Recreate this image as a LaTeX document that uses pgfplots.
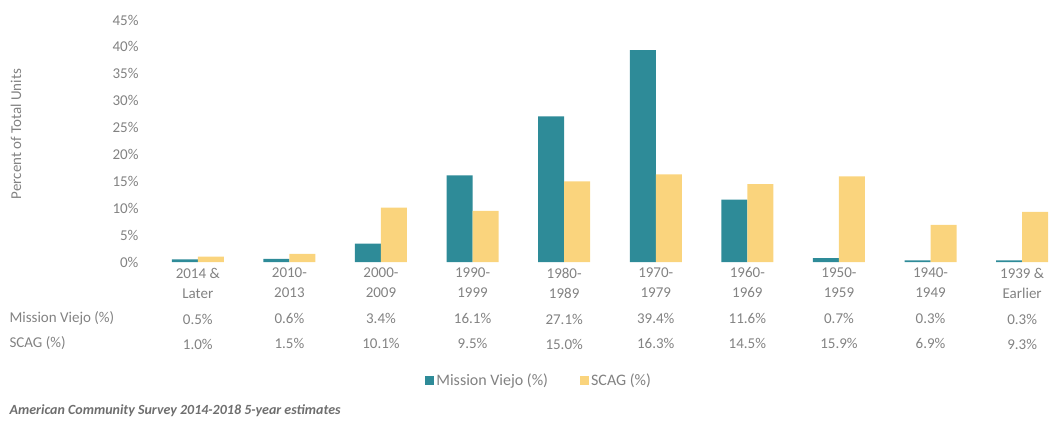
\documentclass[border=0pt]{standalone}
\usepackage{pgfplots}
\pgfplotsset{compat=1.18}
\usepackage{fontspec}
\setmainfont{Carlito}
\definecolor{mvteal}{RGB}{46,139,152}
\definecolor{scagyel}{RGB}{250,212,125}
\definecolor{txt}{RGB}{130,130,130}
\begin{document}
\begin{tikzpicture}
\path[use as bounding box] (0pt,0pt) rectangle (1058pt,426pt);
\begin{axis}[
  at={(152pt,164pt)}, anchor=south west,
  scale only axis, width=906.8pt, height=242pt,
  ybar=0pt, bar width=26pt,
  xmin=-0.5, xmax=9.4, ymin=0, ymax=45,
  axis line style={draw=none},
  major tick style={draw=none},
  ytick={0,5,...,45},
  yticklabels={0\%,5\%,10\%,15\%,20\%,25\%,30\%,35\%,40\%,45\%},
  yticklabel style={xshift=-10pt, font=\fontsize{15}{18}\selectfont, text=txt},
  xtick={0,...,9},
  xticklabels={
    {2014 \&\\Later\\[6pt]0.5\%\\[5pt]1.0\%},
    {2010-\\2013\\[6pt]0.6\%\\[5pt]1.5\%},
    {2000-\\2009\\[6pt]3.4\%\\[5pt]10.1\%},
    {1990-\\1999\\[6pt]16.1\%\\[5pt]9.5\%},
    {1980-\\1989\\[6pt]27.1\%\\[5pt]15.0\%},
    {1970-\\1979\\[6pt]39.4\%\\[5pt]16.3\%},
    {1960-\\1969\\[6pt]11.6\%\\[5pt]14.5\%},
    {1950-\\1959\\[6pt]0.7\%\\[5pt]15.9\%},
    {1940-\\1949\\[6pt]0.3\%\\[5pt]6.9\%},
    {1939 \&\\Earlier\\[6pt]0.3\%\\[5pt]9.3\%}},
  xticklabel style={align=center, anchor=north, yshift=2pt,
    font=\fontsize{15}{20}\selectfont, text=txt},
  legend style={draw=none, legend columns=2, at={(0.427,-0.49)}, anchor=center,
    font=\fontsize{16}{19}\selectfont, text=txt,
    /tikz/column 2/.style={column sep=30pt}},
  legend image code/.code={\fill[#1] (0pt,-4.5pt) rectangle (9pt,4.5pt);},
  clip=false,
]
\addplot[fill=mvteal, draw=none] coordinates {
  (0,0.5) (1,0.6) (2,3.4) (3,16.1) (4,27.1) (5,39.4) (6,11.6) (7,0.7) (8,0.3) (9,0.3)};
\addplot[fill=scagyel, draw=none] coordinates {
  (0,1.0) (1,1.5) (2,10.1) (3,9.5) (4,15.0) (5,16.3) (6,14.5) (7,15.9) (8,6.9) (9,9.3)};
\legend{Mission Viejo (\%), SCAG (\%)}
\end{axis}
\node[rotate=90, text=txt, font=\fontsize{15}{18}\selectfont] at (16pt,292pt) {Percent of Total Units};
\node[anchor=west, text=txt, font=\fontsize{15}{18}\selectfont] at (6pt,108pt) {Mission Viejo (\%)};
\node[anchor=west, text=txt, font=\fontsize{15}{18}\selectfont] at (6pt,83pt) {SCAG (\%)};
\node[anchor=west, text=txt!85!black, font=\fontsize{14}{17}\selectfont\bfseries\itshape] at (6pt,15pt) {American Community Survey 2014-2018 5-year estimates};
\end{tikzpicture}
\end{document}
